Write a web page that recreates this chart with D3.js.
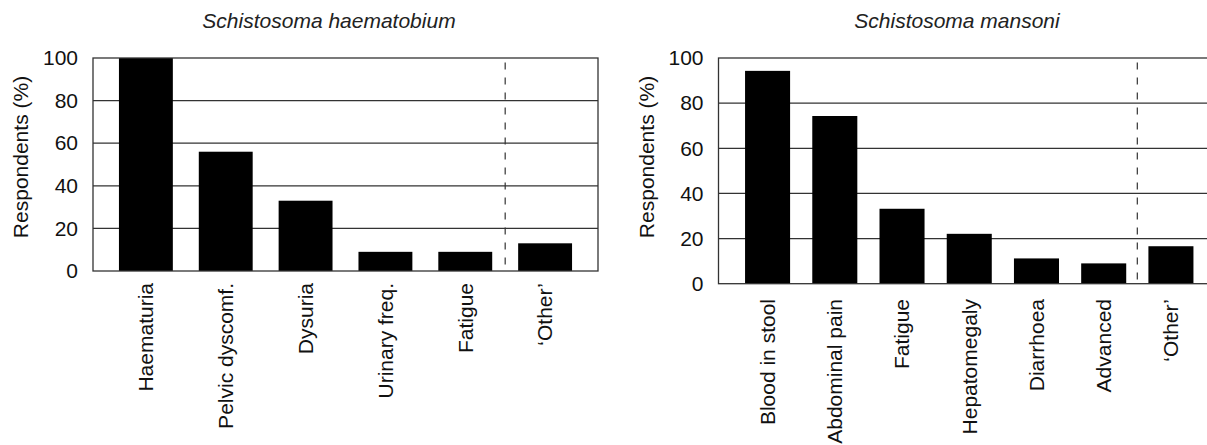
<!DOCTYPE html>
<html>
<head>
<meta charset="utf-8">
<script src="https://cdn.jsdelivr.net/npm/d3@7"></script>
<style>
  html, body { margin: 0; padding: 0; background: #fff; }
  svg { display: block; font-family: "Liberation Sans", Arial, Helvetica, sans-serif; }
</style>
</head>
<body>
<svg id="chart" width="1207" height="445"></svg>
<script>
// ---- data ----
const leftTitle = "Schistosoma haematobium";
const leftCategories = ["Haematuria", "Pelvic dyscomf.", "Dysuria", "Urinary freq.", "Fatigue", "\u2018Other\u2019"];
const leftValues = [100, 56, 33, 9, 9, 13];

const rightTitle = "Schistosoma mansoni";
const rightCategories = ["Blood in stool", "Abdominal pain", "Fatigue", "Hepatomegaly", "Diarrhoea", "Advanced", "\u2018Other\u2019"];
const rightValues = [94.3, 74.3, 33.2, 22.1, 11.2, 9.0, 16.6];

const yTicks = [0, 20, 40, 60, 80, 100];
const yLabel = "Respondents (%)";

// ---- layout ----
const panels = [
  { title: leftTitle, cats: leftCategories, vals: leftValues,
    x0: 93, x1: 598, top: 58, bottom: 271, pInner: 0.325, pOuter: 0.325,
    labelTop: 283, yTitleX: 21, titleX: 329 },
  { title: rightTitle, cats: rightCategories, vals: rightValues,
    x0: 718.5, x1: 1220, top: 58, bottom: 283.7, pInner: 0.33, pOuter: 0.395,
    labelTop: 299, yTitleX: 647, titleX: 957 }
];

const svg = d3.select("#chart");
const ink = "#111";
const lineCol = "#333";
const fs = 21;

panels.forEach(p => {
  const g = svg.append("g");
  const x = d3.scaleBand().domain(p.cats).range([p.x0, p.x1])
    .paddingInner(p.pInner).paddingOuter(p.pOuter);
  const y = d3.scaleLinear().domain([0, 100]).range([p.bottom, p.top]);

  // gridlines
  g.selectAll("line.grid").data(yTicks.filter(t => t > 0 && t < 100)).enter()
    .append("line").attr("class", "grid")
    .attr("x1", p.x0).attr("x2", p.x1)
    .attr("y1", d => y(d)).attr("y2", d => y(d))
    .attr("stroke", lineCol).attr("stroke-width", 1.2);

  // dashed separator before 'Other'
  const n = p.cats.length;
  const sepX = (x(p.cats[n - 2]) + x.bandwidth() + x(p.cats[n - 1])) / 2;
  g.append("line")
    .attr("x1", sepX).attr("x2", sepX)
    .attr("y1", y(100) + 4.5).attr("y2", y(0))
    .attr("stroke", lineCol).attr("stroke-width", 1.2)
    .attr("stroke-dasharray", "7,8");

  // bars
  g.selectAll("rect.bar").data(p.cats.map((c, i) => ({ c, v: p.vals[i] }))).enter()
    .append("rect").attr("class", "bar")
    .attr("x", d => x(d.c)).attr("width", x.bandwidth())
    .attr("y", d => y(d.v)).attr("height", d => y(0) - y(d.v))
    .attr("fill", "#000");

  // frame
  g.append("rect")
    .attr("x", p.x0).attr("y", y(100))
    .attr("width", p.x1 - p.x0).attr("height", y(0) - y(100))
    .attr("fill", "none").attr("stroke", lineCol).attr("stroke-width", 1.3);

  // y axis
  const ya = g.append("g").attr("transform", `translate(${p.x0},0)`)
    .call(d3.axisLeft(y).tickValues(yTicks).tickSize(0).tickPadding(15).tickFormat(d3.format("d")));
  ya.select(".domain").remove();
  ya.selectAll("text").attr("font-size", fs).attr("fill", ink)
    .attr("font-family", "'Liberation Sans', Arial, sans-serif");

  // x labels (rotated)
  g.selectAll("text.xl").data(p.cats).enter()
    .append("text").attr("class", "xl")
    .attr("transform", d => `translate(${x(d) + x.bandwidth() / 2},${p.labelTop}) rotate(-90)`)
    .attr("text-anchor", "end").attr("dy", "0.35em")
    .attr("font-size", fs).attr("fill", ink)
    .text(d => d);

  // y title
  g.append("text")
    .attr("transform", `translate(${p.yTitleX},157) rotate(-90)`)
    .attr("text-anchor", "middle").attr("dy", "0.35em")
    .attr("font-size", fs).attr("fill", ink)
    .text(yLabel);

  // panel title
  g.append("text")
    .attr("x", p.titleX).attr("y", 28)
    .attr("text-anchor", "middle")
    .attr("font-size", fs).attr("font-style", "italic").attr("fill", "#222")
    .text(p.title);
});
</script>
</body>
</html>
